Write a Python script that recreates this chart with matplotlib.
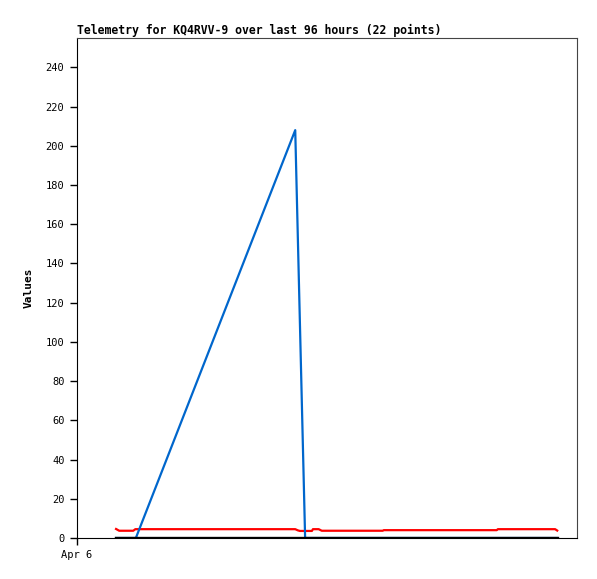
import matplotlib
matplotlib.use("Agg")
import matplotlib.pyplot as plt

# hours since Apr 6 00:00
red_x = [7.5, 8.1, 10.8, 11.2, 41.9, 42.4, 42.8, 45.1, 45.3, 46.4, 47.0, 58.7, 58.9, 80.6, 80.8, 91.8, 92.2]
red_y = [4.6, 3.7, 3.7, 4.5, 4.5, 3.9, 3.6, 3.6, 4.5, 4.5, 3.7, 3.7, 4.0, 4.0, 4.5, 4.5, 3.8]

blue_x = [7.5, 11.3, 41.9, 43.8, 92.2]
blue_y = [0, 0, 208, 0, 0]

black_x = [7.5, 92.2]
black_y = [0, 0]

yticks = list(range(0, 241, 20))
title = "Telemetry for KQ4RVV-9 over last 96 hours (22 points)"

fig = plt.figure(figsize=(5.97, 5.79), dpi=100)
ax = fig.add_axes([77/597, 1 - 538/579, 500/597, 500/579])

ax.plot(red_x, red_y, color="#ff0000", lw=1.6, zorder=2)
ax.plot(blue_x, blue_y, color="#0066cc", lw=1.6, zorder=3)
ax.plot(black_x, black_y, color="black", lw=2.4, zorder=4)

ax.set_xlim(0, 96)
ax.set_ylim(0, 255)
ax.set_yticks(yticks)
ax.set_xticks([0])
ax.set_xticklabels(["Apr 6"])

mono = "DejaVu Sans Mono"
ax.tick_params(direction="out", length=5, width=1, labelsize=7.5, pad=4)
for lab in ax.get_xticklabels() + ax.get_yticklabels():
    lab.set_family(mono)

ax.set_ylabel("Values", family=mono, fontsize=8, fontweight="bold", labelpad=9)
ax.set_title(title, family=mono, fontsize=8.3, fontweight="bold", loc="left", pad=3)

for s in ["top", "right"]:
    ax.spines[s].set_color("#444444")
for s in ["left", "bottom"]:
    ax.spines[s].set_color("black")

fig.savefig("out.png", dpi=100)
